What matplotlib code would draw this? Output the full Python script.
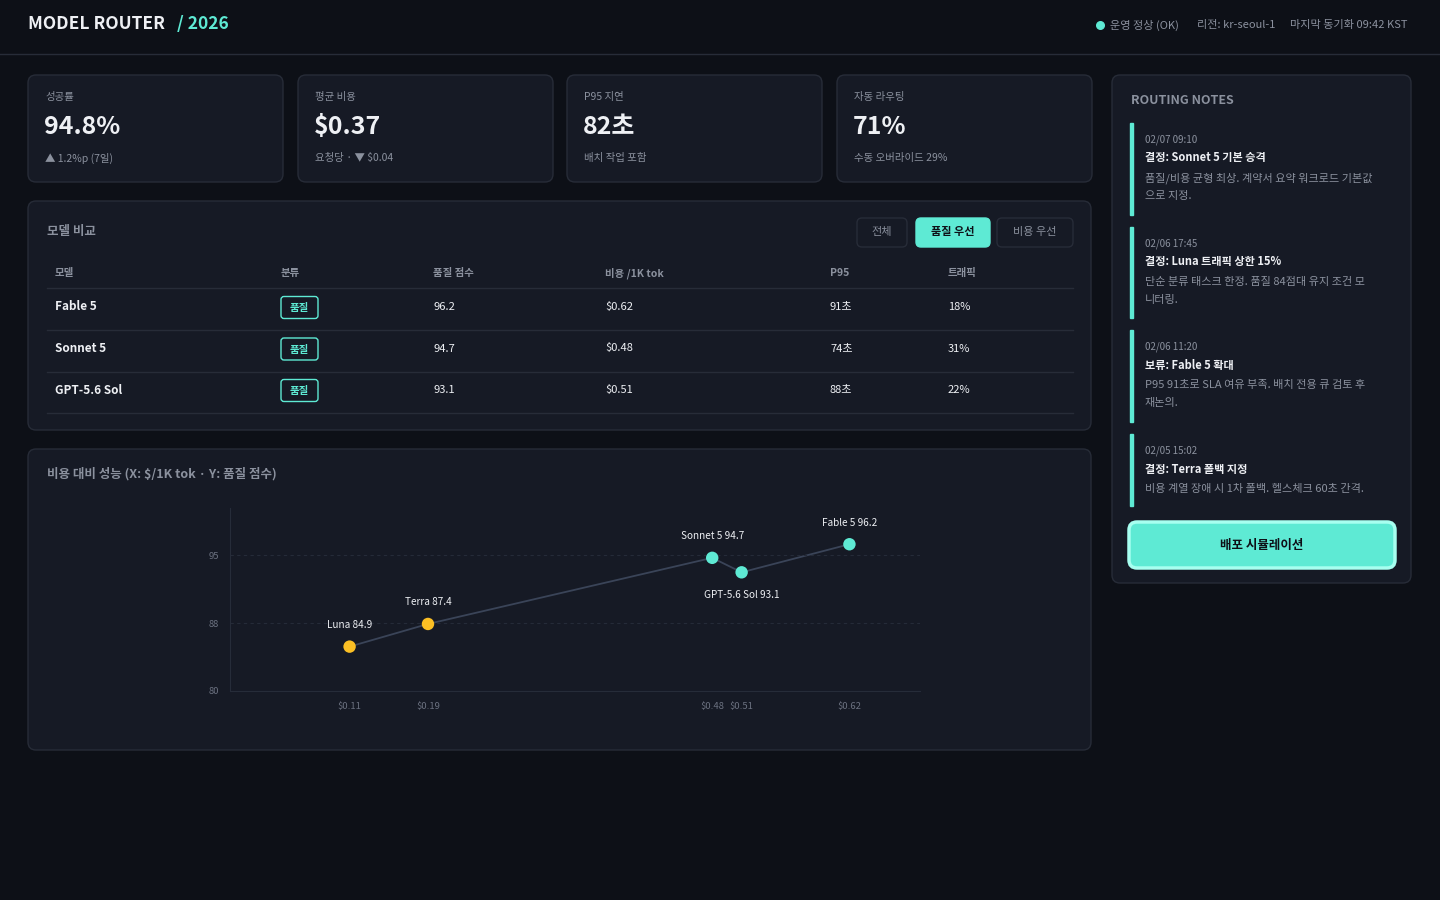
import matplotlib
matplotlib.use("Agg")
import matplotlib.pyplot as plt
from matplotlib.patches import FancyBboxPatch, Rectangle
import matplotlib.ticker as mticker

plt.rcParams['font.family'] = ['Noto Sans CJK KR', 'DejaVu Sans']

# ---------------- data ----------------
kpi_labels = ["성공률", "평균 비용", "P95 지연", "자동 라우팅"]
kpi_values = ["94.8%", "$0.37", "82초", "71%"]
kpi_subs = ["▲ 1.2%p (7일)", "요청당 · ▼ $0.04", "배치 작업 포함", "수동 오버라이드 29%"]

table_headers = ["모델", "분류", "품질 점수", "비용 /1K tok", "P95", "트래픽"]
table_models = ["Fable 5", "Sonnet 5", "GPT-5.6 Sol"]
table_class = ["품질", "품질", "품질"]
table_quality = ["96.2", "94.7", "93.1"]
table_cost = ["$0.62", "$0.48", "$0.51"]
table_p95 = ["91초", "74초", "88초"]
table_traffic = ["18%", "31%", "22%"]
filter_buttons = ["전체", "품질 우선", "비용 우선"]

scatter_names = ["Luna", "Terra", "Sonnet 5", "GPT-5.6 Sol", "Fable 5"]
scatter_cost = [0.11, 0.19, 0.48, 0.51, 0.62]
scatter_quality = [84.9, 87.4, 94.7, 93.1, 96.2]
scatter_tier = ["cost", "cost", "quality", "quality", "quality"]
y_ticks = [80, 87.5, 95]

note_times = ["02/07 09:10", "02/06 17:45", "02/06 11:20", "02/05 15:02"]
note_titles = ["결정: Sonnet 5 기본 승격", "결정: Luna 트래픽 상한 15%", "보류: Fable 5 확대", "결정: Terra 폴백 지정"]
note_bodies = [["품질/비용 균형 최상. 계약서 요약 워크로드 기본값", "으로 지정."],
               ["단순 분류 태스크 한정. 품질 84점대 유지 조건 모", "니터링."],
               ["P95 91초로 SLA 여유 부족. 배치 전용 큐 검토 후", "재논의."],
               ["비용 계열 장애 시 1차 폴백. 헬스체크 60초 간격."]]

# ---------------- style ----------------
BG = "#0d1017"
CARD = "#161a25"
BORDER = "#272c38"
ACCENT = "#5eead4"
YELLOW = "#fbbf24"
WHITE = "#eef0f4"
MUTED = "#8b919e"
DIM = "#6b7180"

W, H = 1440, 900
fig = plt.figure(figsize=(14.4, 9), dpi=100)
fig.patch.set_facecolor(BG)
ov = fig.add_axes([0, 0, 1, 1])
ov.set_xlim(0, W); ov.set_ylim(H, 0); ov.axis("off")
ov.set_zorder(0)

def card(x, y, w, h, fc=CARD, ec=BORDER, r=8, lw=1, z=1):
    ov.add_patch(FancyBboxPatch((x, y), w, h, boxstyle=f"round,pad=0,rounding_size={r}",
                                fc=fc, ec=ec, lw=lw, zorder=z))

def txt(x, y, s, size=8, color=WHITE, weight="normal", ha="left", va="center", **kw):
    ov.text(x, y, s, fontsize=size, color=color, fontweight=weight, ha=ha, va=va, **kw)

# header
txt(28, 24, "MODEL ROUTER", 12.5, WHITE, "bold")
ov.text(177, 24, "/ 2026", fontsize=12.5, color=ACCENT, fontweight="bold", va="center")
ov.plot([0, W], [54, 54], color=BORDER, lw=1)
ov.scatter([1100], [25], s=30, color=ACCENT, zorder=3)
txt(1110, 25, "운영 정상 (OK)", 8, MUTED)
txt(1197, 25, "리전: kr-seoul-1", 8, MUTED)
txt(1290, 25, "마지막 동기화 09:42 KST", 8, MUTED)

# KPI cards
kx = [28, 298, 567, 837]
for i in range(4):
    card(kx[i], 75, 255, 107)
    txt(kx[i] + 17, 97, kpi_labels[i], 7.5, MUTED)
    txt(kx[i] + 16, 127, kpi_values[i], 18, WHITE, "bold")
    txt(kx[i] + 17, 158, kpi_subs[i], 7.5, MUTED)

# table card
card(28, 201, 1063, 229)
txt(47, 231, "모델 비교", 9, MUTED, "bold")
bx = [857, 916, 997]; bw = [50, 74, 76]
for i, b in enumerate(filter_buttons):
    active = i == 1
    card(bx[i], 218, bw[i], 29, fc=ACCENT if active else CARD, ec=ACCENT if active else BORDER, r=5, z=2)
    txt(bx[i] + bw[i] / 2, 232, b, 8, "#0d1017" if active else MUTED, "bold" if active else "normal", ha="center")
cols = [55, 281, 433, 605, 830, 948]
for j, hname in enumerate(table_headers):
    txt(cols[j], 273, hname, 7.5, MUTED, "bold")
ov.plot([47, 1073], [288, 288], color=BORDER, lw=1)
for i in range(3):
    y = 307 + i * 41.5
    row = [table_models[i], None, table_quality[i], table_cost[i], table_p95[i], table_traffic[i]]
    for j, v in enumerate(row):
        if v is None:
            card(281, y - 10.5, 37, 22, fc=CARD, ec=ACCENT, r=3, z=2)
            txt(299.5, y + 1, table_class[i], 7.5, ACCENT, "bold", ha="center", zorder=3)
        else:
            txt(cols[j], y, v, 8.5 if j == 0 else 8, WHITE, "bold" if j == 0 else "normal")
    ov.plot([47, 1073], [y + 23, y + 23], color=BORDER, lw=1)

# chart card
card(28, 449, 1063, 301)
txt(47, 474, "비용 대비 성능 (X: $/1K tok · Y: 품질 점수)", 9, MUTED, "bold")

# notes card
card(1112, 75, 299, 508)
txt(1131, 100, "ROUTING NOTES", 9, MUTED, "bold")
ny = [123, 227, 330, 434]
nh = [92, 91, 92, 72]
for i in range(4):
    ov.add_patch(Rectangle((1130, ny[i]), 2.5, nh[i], color=ACCENT, zorder=2))
    txt(1145, ny[i] + 17, note_times[i], 7, MUTED)
    txt(1145, ny[i] + 35, note_titles[i], 8, WHITE, "bold")
    for k, line in enumerate(note_bodies[i]):
        txt(1145, ny[i] + 55 + k * 18, line, 8, MUTED)
card(1129, 522, 266, 46, fc=ACCENT, ec="#a7fff0", r=8, lw=2.5, z=2)
txt(1262, 545, "배포 시뮬레이션", 9, "#0d1017", "bold", ha="center", zorder=3)

# scatter axes
ax = fig.add_axes([230 / W, 1 - 691 / H, (920 - 230) / W, (691 - 508) / H])
ax.set_zorder(2)
ax.patch.set_alpha(0)
ax.plot(scatter_cost, scatter_quality, color="#3a4458", lw=1.3, zorder=1)
colors = [YELLOW if t == "cost" else ACCENT for t in scatter_tier]
ax.scatter(scatter_cost, scatter_quality, s=80, c=colors, zorder=3, edgecolors="none")
for n, cx, q in zip(scatter_names, scatter_cost, scatter_quality):
    below = n.startswith("GPT")
    ax.annotate(f"{n} {q}", (cx, q), xytext=(0, -13 if below else 12), textcoords="offset points",
                ha="center", va="top" if below else "bottom", fontsize=7.2, color=WHITE)
ax.set_xlim(-0.012, 0.692)
ax.set_ylim(80, 100.2)
ax.set_xticks(scatter_cost)
ax.xaxis.set_major_formatter(mticker.FuncFormatter(lambda v, p: f"${v:.2f}"))
ax.set_yticks(y_ticks)
ax.yaxis.set_major_formatter(mticker.FuncFormatter(lambda v, p: f"{v:.0f}"))
ax.grid(axis="y", color="#252b38", ls=(0, (3, 3)), lw=0.8)
for s in ["top", "right"]:
    ax.spines[s].set_visible(False)
for s in ["left", "bottom"]:
    ax.spines[s].set_color("#262c39")
ax.tick_params(length=0, colors=DIM, labelsize=6.8, pad=8)

fig.savefig("out.png", dpi=100, facecolor=BG)
